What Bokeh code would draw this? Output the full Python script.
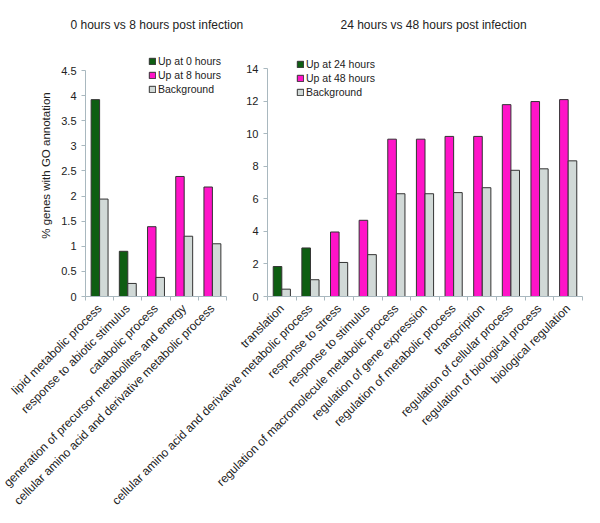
import numpy as np
from bokeh.plotting import figure
from bokeh.models import (ColumnDataSource, Range1d, FixedTicker, Legend,
                          LegendItem, CustomJSTickFormatter)
from bokeh.transform import dodge
from bokeh.layouts import row
from bokeh.embed import file_html
from bokeh.resources import INLINE

# ---------------- data ----------------
left_title = "0 hours vs 8 hours post infection"
right_title = "24 hours vs 48 hours post infection"
y_label = "% genes with GO annotation"

left_categories = [
    "lipid metabolic process",
    "response to abiotic stimulus",
    "catabolic process",
    "generation of precursor metabolites and energy",
    "cellular amino acid and derivative metabolic process",
]
left_up_early = [3.92, 0.90, None, None, None]
left_up_late = [None, None, 1.39, 2.39, 2.18]
left_background = [1.94, 0.26, 0.38, 1.20, 1.05]
left_series_names = ["Up at 0 hours", "Up at 8 hours", "Background"]
left_y_ticks = [0, 0.5, 1, 1.5, 2, 2.5, 3, 3.5, 4, 4.5]
left_y_max = 4.5

right_categories = [
    "translation",
    "cellular amino acid and derivative metabolic process",
    "response to stress",
    "response to stimulus",
    "regulation of macromolecule metabolic process",
    "regulation of gene expression",
    "regulation of metabolic process",
    "transcription",
    "regulation of cellular process",
    "regulation of biological process",
    "biological regulation",
]
right_up_early = [1.84, 2.98, None, None, None, None, None, None, None, None, None]
right_up_late = [None, None, 3.96, 4.68, 9.66, 9.66, 9.83, 9.83, 11.78, 11.97, 12.09]
right_background = [0.45, 1.03, 2.09, 2.57, 6.31, 6.31, 6.38, 6.68, 7.75, 7.84, 8.33]
right_series_names = ["Up at 24 hours", "Up at 48 hours", "Background"]
right_y_ticks = [0, 2, 4, 6, 8, 10, 12, 14]
right_y_max = 14

# ---------------- style ----------------
GREEN = "#0E5E12"
PINK = "#FF14C8"
GRAY = "#D1D9D7"
OUTLINE = "#333333"
AXIS = "#A9B8BF"
FONT = "Liberation Sans"
TEXT = "#222222"

H = 523
FRAME_TOP = 34
FRAME_BOTTOM = 296  # px from top of the figure where y = 0


def build(cats, early, late, bg, names, yticks, ymax, axis_top_px, width,
          b_left, b_right, legend_loc, title, title_offset, ylab=None):
    n = len(cats)
    ext = ymax * (FRAME_BOTTOM - FRAME_TOP) / (FRAME_BOTTOM - axis_top_px)
    p = figure(x_range=Range1d(0, n), y_range=Range1d(0, ext),
               width=width, height=H, output_backend="svg",
               toolbar_location=None, min_border_left=b_left, min_border_right=b_right,
               min_border_top=FRAME_TOP, min_border_bottom=H - FRAME_BOTTOM)
    p.outline_line_color = None
    p.xgrid.grid_line_color = None
    p.ygrid.grid_line_color = None
    p.background_fill_alpha = 0
    p.border_fill_alpha = 0

    p.title.text = title
    p.title.align = "left"
    p.title.offset = title_offset
    p.title.standoff = 6
    p.title.text_font = FONT
    p.title.text_font_size = "12px"
    p.title.text_font_style = "normal"
    p.title.text_color = TEXT

    bw = 0.3

    def src(vals):
        idx = [i + 0.5 for i, v in enumerate(vals) if v is not None]
        v = [v for v in vals if v is not None]
        return ColumnDataSource(dict(pos=idx, val=v))

    r_early = p.vbar(x=dodge("pos", -bw / 2), top="val", width=bw,
                     source=src(early), fill_color=GREEN, line_color=OUTLINE, line_width=1)
    r_late = p.vbar(x=dodge("pos", -bw / 2), top="val", width=bw,
                    source=src(late), fill_color=PINK, line_color=OUTLINE, line_width=1)
    r_bg = p.vbar(x=dodge("pos", bw / 2), top="val", width=bw,
                  source=src(bg), fill_color=GRAY, line_color=OUTLINE, line_width=1)

    legend = Legend(items=[LegendItem(label=names[0], renderers=[r_early]),
                           LegendItem(label=names[1], renderers=[r_late]),
                           LegendItem(label=names[2], renderers=[r_bg])],
                    location=legend_loc, background_fill_alpha=0, border_line_color=None,
                    padding=0, margin=0, spacing=0, label_height=14, glyph_height=8,
                    glyph_width=8, label_standoff=2, label_text_font_size="10.5px",
                    label_text_font=FONT, label_text_color=TEXT)
    p.add_layout(legend)

    # x axis: labels at category centres, small ticks at category boundaries
    xa = p.xaxis[0]
    xa.ticker = FixedTicker(ticks=[i + 0.5 for i in range(n)],
                            minor_ticks=list(range(n + 1)))
    xa.formatter = CustomJSTickFormatter(args=dict(labels=cats),
                                         code="return labels[Math.floor(tick)]")
    xa.axis_line_color = AXIS
    xa.major_tick_line_color = None
    xa.minor_tick_line_color = AXIS
    xa.minor_tick_in = 0
    xa.minor_tick_out = 4
    xa.major_label_orientation = np.pi / 4
    xa.major_label_standoff = 4
    xa.major_label_text_font = FONT
    xa.major_label_text_font_size = "12px"
    xa.major_label_text_color = TEXT

    ax = p.yaxis[0]
    ax.axis_line_color = AXIS
    ax.major_tick_line_color = AXIS
    ax.minor_tick_line_color = None
    ax.major_tick_in = 0
    ax.major_tick_out = 4
    ax.major_label_text_font = FONT
    ax.major_label_text_font_size = "11px"
    ax.major_label_text_color = TEXT
    ax.ticker = FixedTicker(ticks=yticks)
    ax.bounds = (0, ymax)
    ax.formatter = CustomJSTickFormatter(code="return String(tick)")
    ax.major_label_standoff = 5
    if ylab:
        ax.axis_label = ylab
        ax.axis_label_text_font = FONT
        ax.axis_label_text_font_size = "11.5px"
        ax.axis_label_text_font_style = "normal"
        ax.axis_label_text_color = TEXT
        ax.axis_label_standoff = 6
    return p


LEFT_W = 250
RIGHT_START = 100   # right figure overlaps the left one (transparent) so its labels fit
left = build(left_categories, left_up_early, left_up_late, left_background,
             left_series_names, left_y_ticks, left_y_max, 70, LEFT_W,
             85, LEFT_W - 226, (63, 200), left_title, -15, ylab=y_label)
right = build(right_categories, right_up_early, right_up_late, right_background,
              right_series_names, right_y_ticks, right_y_max, 68, 600 - RIGHT_START,
              267 - RIGHT_START, 18, (29, 197), right_title, 73)
right.margin = (0, 0, 0, RIGHT_START - LEFT_W)

layout = row(left, right)
open("out.html", "w").write(file_html(layout, INLINE))
